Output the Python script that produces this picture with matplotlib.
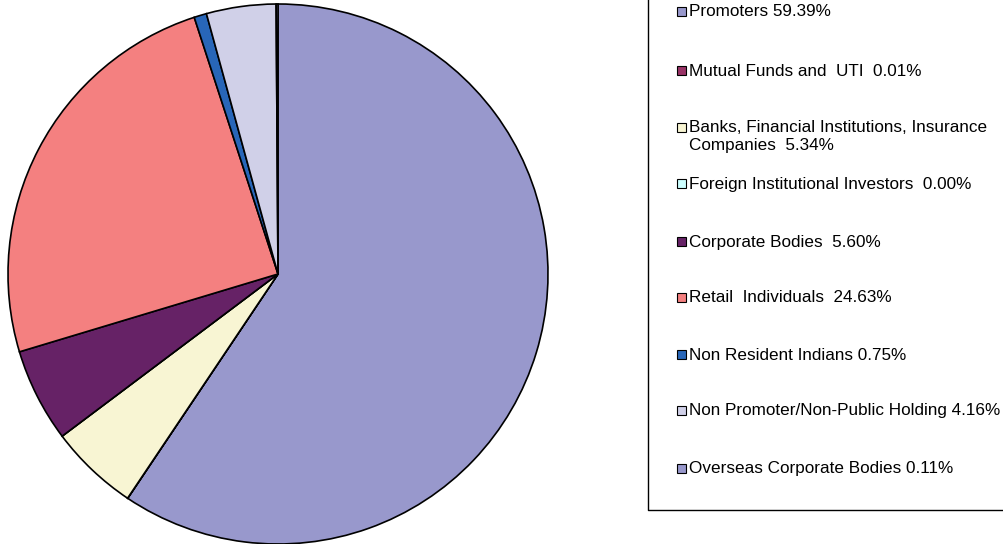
import numpy as np
import matplotlib
matplotlib.use("Agg")
from matplotlib import pyplot as plt
from matplotlib.patches import Rectangle
from matplotlib.lines import Line2D

plt.rcParams['font.family'] = ['Liberation Sans', 'DejaVu Sans']

# shareholding pattern
labels = ['Promoters 59.39%',
          'Mutual Funds and  UTI  0.01%',
          'Banks, Financial Institutions, Insurance\nCompanies  5.34%',
          'Foreign Institutional Investors  0.00%',
          'Corporate Bodies  5.60%',
          'Retail  Individuals  24.63%',
          'Non Resident Indians 0.75%',
          'Non Promoter/Non-Public Holding 4.16%',
          'Overseas Corporate Bodies 0.11%']
values = [59.39, 0.01, 5.34, 0.00, 5.60, 24.63, 0.75, 4.16, 0.11]
colors = ['#9898cc', '#993366', '#f8f5d3', '#ccffff', '#662266',
          '#f48080', '#2866b8', '#d0d0e8', '#9898cc']

W, H = 1004, 544
fig = plt.figure(figsize=(W / 100, H / 100), dpi=100)

# pie axes: centre (278, 274), radius ~270 px
r = 270
ax = fig.add_axes([(278 - r) / W, (H - 274 - r) / H, 2 * r / W, 2 * r / H])
ax.pie(values, colors=colors, startangle=90, counterclock=False,
       wedgeprops=dict(edgecolor='black', linewidth=1.2), radius=1.0)
ax.set_xlim(-1, 1)
ax.set_ylim(-1, 1)
ax.set_aspect('equal')
ax.axis('off')

# legend box: only left and bottom edges are inside the picture
fig.lines.append(Line2D([648 / W, 648 / W, 1.0], [1.0, (H - 510) / H, (H - 510) / H],
                        transform=fig.transFigure, color='black', linewidth=1.0))

ys = [12, 71, 128, 184, 242, 298, 355, 411, 469]
for lab, c, y in zip(labels, colors, ys):
    fig.patches.append(Rectangle((677 / W, (H - y - 4) / H), 9 / W, 9 / H,
                                 transform=fig.transFigure, facecolor=c,
                                 edgecolor='black', linewidth=0.8, zorder=2))
    if '\n' in lab:
        fig.text(689 / W, (H - y + 8) / H, lab, fontsize=12.3, va='top',
                 ha='left', linespacing=1.25, transform=fig.transFigure)
    else:
        fig.text(689 / W, (H - y) / H, lab, fontsize=12.3, va='center',
                 ha='left', transform=fig.transFigure)

fig.savefig('out.png', dpi=100)
